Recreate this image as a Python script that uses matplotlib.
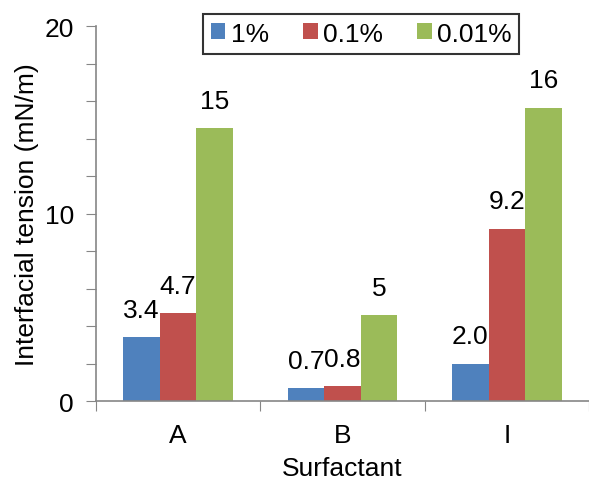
import numpy as np
import matplotlib
matplotlib.use("Agg")
import matplotlib.pyplot as plt

plt.rcParams["font.family"] = ["Liberation Sans", "DejaVu Sans"]

# data
surfactants = ["A", "B", "I"]
series_names = ["1%", "0.1%", "0.01%"]
tension_1 = [3.4, 0.7, 2.0]
tension_01 = [4.7, 0.8, 9.2]
tension_001 = [14.55, 4.6, 15.65]
labels_1 = ["3.4", "0.7", "2.0"]
labels_01 = ["4.7", "0.8", "9.2"]
labels_001 = ["15", "5", "16"]
colors = ["#4F81BD", "#C0504D", "#9BBB59"]

FS = 19

fig = plt.figure(figsize=(5.89, 4.85), dpi=100)
ax = fig.add_axes([0.163, 0.171, 0.837, 0.773])

x = np.arange(len(surfactants))
w = 0.222
series = [tension_1, tension_01, tension_001]
labels = [labels_1, labels_01, labels_001]

for i, (vals, labs) in enumerate(zip(series, labels)):
    pos = x + (i - 1) * w
    bars = ax.bar(pos, vals, width=w, color=colors[i], label=series_names[i],
                  edgecolor="none")
    for b, lab in zip(bars, labs):
        ax.annotate(lab, (b.get_x() + b.get_width() / 2, b.get_height()),
                    xytext=(0, 11), textcoords="offset points",
                    ha="center", va="bottom", fontsize=FS)

ax.set_xlim(-0.5, 2.5)
ax.set_ylim(0, 20)

# y axis
ax.set_yticks(range(0, 21, 2))
ax.set_yticklabels(["0" if v == 0 else (str(v) if v % 10 == 0 else "") for v in range(0, 21, 2)],
                   fontsize=FS)
ax.tick_params(axis="y", direction="out", length=7, color="#868686", pad=9)

# x axis: ticks at category boundaries, labels at centers
ax.set_xticks([-0.5, 0.5, 1.5, 2.5])
ax.set_xticklabels([])
ax.set_xticks(x, minor=True)
ax.set_xticklabels(surfactants, minor=True, fontsize=FS)
ax.tick_params(axis="x", which="major", direction="out", length=7, color="#868686")
ax.tick_params(axis="x", which="minor", length=0, pad=16)

for side in ["top", "right"]:
    ax.spines[side].set_visible(False)
for side in ["left", "bottom"]:
    ax.spines[side].set_color("#868686")
    ax.spines[side].set_linewidth(1.2)

ax.set_xlabel("Surfactant", fontsize=FS, labelpad=6)
ax.set_ylabel("Interfacial tension (mN/m)", fontsize=FS, labelpad=4)

leg = ax.legend(loc="upper left", bbox_to_anchor=(0.19, 1.068), ncol=3,
                fontsize=FS, frameon=True, fancybox=False, edgecolor="black",
                handlelength=0.55, handleheight=0.55, handletextpad=0.2,
                columnspacing=1.3, borderpad=0.3)
leg.get_frame().set_linewidth(1.5)

fig.savefig("out.png", dpi=100)
